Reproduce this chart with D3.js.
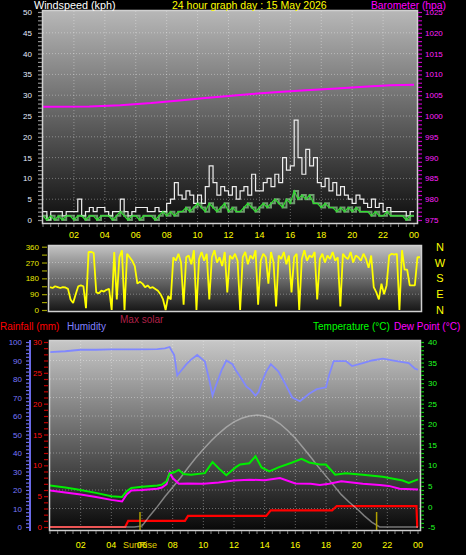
<!DOCTYPE html>
<html><head><meta charset="utf-8">
<script src="https://cdn.jsdelivr.net/npm/d3@7"></script>
<style>
body{margin:0;background:#000;}
svg{display:block;font-family:"Liberation Sans",Arial,sans-serif;}
</style>
</head><body>
<svg id="c" width="466" height="555"></svg>
<script>
// ---------------- DATA ----------------
const titleText = "24 hour graph day : 15 May 2026";
const hourLabels = ["02","04","06","08","10","12","14","16","18","20","22","00"];
const labelHours = [2,4,6,8,10,12,14,16,18,20,22,24];

// wind (kph), one value every 15 minutes (index/4 = hour)
const windGust = [2,0,2,2, 2,1,2,2, 2,5,1,2, 3,2,3,3, 2,1,2,2, 5,2,1,2, 3,3,3,2, 2,3,2,2,
  4,5,9,6, 5,7,6,4, 6,4,8,13, 9,6,8,7, 6,8,5,7, 8,6,11,7, 7,9,10,8, 11,9,15,12,
  13,24,15,11, 17,13,15,9, 8,10,7,9, 6,8,6,5, 4,6,5,4, 3,5,3,4, 2,3,2,2, 2,2,1,2, 2];
const windAvg = [1,0,1,0, 1,0,1,1, 0,1,1,0, 1,1,0,1, 1,1,0,1, 2,1,0,1, 1,0,1,1, 1,0,1,2,
  1,2,1,2, 2,3,2,3, 4,3,2,4, 3,2,3,4, 2,3,2,2, 3,4,3,2, 3,4,3,4, 5,4,3,5,
  4,7,5,6, 5,6,4,4, 3,4,3,3, 2,3,2,3, 2,3,2,2, 2,1,2,1, 1,2,1,1, 1,1,0,1, 1];

// barometer (hPa)
const baroHours = [0,3,5,7,9,10.5,12,13.5,15,17,19,21,22.5,24];
const baro = [1002.2,1002.3,1002.6,1003.1,1003.8,1004.3,1004.8,1005.3,1005.7,1006.2,1006.6,1007.1,1007.4,1007.5];

// wind direction (deg), one value every 10 minutes (index/6 = hour)
const windDir = [
  130,125,135,130,125,130, 128,120,60,40,90,135, 140,135,10,330,330,325,
  100,95,110,105,115,120, 0,330,60,300,340,0, 320,300,280,250,150,160,
  150,130,140,125,130,120, 110,90,60,0,80,60, 300,280,320,270,30,300,
  310,260,340,0,290,330, 280,320,60,300,340,270, 300,250,330,100,310,290,
  320,280,0,300,330,260, 310,290,340,30,280,320, 300,150,330,270,20,310,
  290,330,260,310,100,300, 320,0,290,340,280,310, 300,330,60,290,320,270,
  310,290,330,280,300,20, 320,300,290,330,270,310, 300,280,320,290,240,310,
  130,100,60,150,90,140, 310,320,315,320,0,340, 230,230,140,140,140,300, 300];
const compass = ["N","W","S","E","N"];
const compassDeg = [360,270,180,90,0];

// humidity (%)
const humHours = [0,1,2,3,4,5,6,7,7.5,7.8,8.1,8.3,8.6,8.9,9.2,9.6,10.1,10.4,10.6,10.8,11.2,11.5,11.9,12.1,12.5,12.8,
  13.1,13.4,13.6,13.8,14.1,14.4,14.9,15.3,15.8,16.3,16.9,17.4,18.0,18.2,18.5,19.3,19.7,20.4,21.0,21.7,22.6,23.4,23.8,24];
const humidity = [94.5,95,95.8,95.8,96,96,96,96.2,96.5,97.3,93,82,85,88,90.5,93,89.5,79,71,76,85,90,88,85,80,76,
  74,71,73,78,84,88,84,78,70,68,72,74.5,75.5,82,89.7,89.7,87,88.6,90,91,89.7,88.6,85.6,85];

// temperature (°C)
const tempHours = [0,1,1.8,3,4,4.7,5.0,5.3,6,7,7.3,7.6,7.8,8.1,8.4,8.7,9.2,10.1,10.6,11.1,11.5,12.1,12.4,13.0,13.4,13.8,
  14.3,14.9,15.8,16.4,16.9,17.6,18.0,18.6,19.3,20.4,21.7,23.0,23.4,24];
const temperature = [5.1,4.6,4.1,3.3,2.5,2.3,3.7,4.5,4.8,5.1,5.3,6.1,8.1,8.3,8.9,7.9,7.7,8.1,10.8,8.9,7.6,9.5,10.2,10.5,12.2,9.5,
  8.5,9.5,10.7,11.6,10.7,10.2,10.2,7.7,8.1,7.7,7.2,6.3,5.7,6.6];

// dew point (°C)
const dewHours = [0,1,2,3,4,4.7,5.0,5.3,6,7,7.3,7.6,7.8,8.0,8.4,9,10,11,12,13,14,15,16,17,17.6,18.2,19.0,20.4,21.5,22.1,22.8,24];
const dewPoint = [3.9,3.4,2.9,2.3,1.6,1.2,2.9,3.9,4.0,4.3,4.6,5.4,8.3,6.9,5.5,5.6,5.5,5.8,6.3,6.5,6.4,6.9,5.6,5.5,5.2,5.5,6.1,5.5,5.2,5.0,4.3,4.1];

// rainfall (mm, cumulative)
const rainHours = [0,4.9,5.0,5.1,8.8,9.0,14.1,14.4,18.4,18.7,23.9,23.95,24];
const rainfall = [0,0,0.5,1.0,1.0,1.8,1.8,2.7,2.7,3.4,3.4,0,0];

// max solar (W/m2)
const solarHours = [0,5.5,6,6.5,7,7.5,8,8.5,9,9.5,10,10.5,11,11.5,12,12.5,13,13.5,14,14.5,15,15.5,16,16.5,17,17.5,18,18.5,19,19.5,20,20.5,21,21.5,24];
const maxSolar = [0,0,5,60,110,165,215,265,320,373,420,465,505,540,568,588,600,605,600,585,558,522,480,430,378,325,275,225,175,135,100,60,25,0,0];

const sunRise = 5.87, sunSet = 21.3;

// ---------------- DRAW ----------------
const svg = d3.select("#c");
const defs = svg.append("defs");
function grad(id, c1, c2){
  const g = defs.append("linearGradient").attr("id",id).attr("x1",0).attr("y1",0).attr("x2",0).attr("y2",1);
  g.append("stop").attr("offset","0%").attr("stop-color",c1);
  g.append("stop").attr("offset","100%").attr("stop-color",c2);
}
grad("gTop","#b8b8b8","#0c0c0c");
grad("gMid","#c4c4c4","#141414");
grad("gBot","#c8c8c8","#080808");
function clip(id,x,y,w,h){defs.append("clipPath").attr("id",id).append("rect").attr("x",x).attr("y",y).attr("width",w).attr("height",h);}

const xTop = d3.scaleLinear([0,24],[43,414]);
const yWind = d3.scaleLinear([0,50],[220,12]);
const yBaro = d3.scaleLinear([975,1025],[220,12]);
const xMid = d3.scaleLinear([0,24],[50,420]);
const yDir = d3.scaleLinear([0,360],[310,246.7]);
const xBot = d3.scaleLinear([0,24],[50,418]);
const yHum = d3.scaleLinear([0,100],[527,342]);
const yRain = d3.scaleLinear([0,30],[527,342]);
const yTemp = d3.scaleLinear([-5,40],[527,342]);
const ySolar = d3.scaleLinear([0,1000],[527,342]);

const gridStyle = s => s.attr("stroke","rgba(255,255,255,0.35)").attr("stroke-dasharray","1,2").attr("stroke-width",1);

// panel frames
const panels = [
  {x:42,y:10,w:376,h:214,f:"url(#gTop)",id:"cTop"},
  {x:48,y:245,w:374,h:67,f:"url(#gMid)",id:"cMid"},
  {x:49,y:340,w:372,h:191,f:"url(#gBot)",id:"cBot"}
];
panels.forEach(p=>{
  svg.append("rect").attr("x",p.x).attr("y",p.y).attr("width",p.w).attr("height",p.h).attr("fill",p.f);
  clip(p.id,p.x+1,p.y+1,p.w-2,p.h-2);
});

// ---- top panel ----
const gTop = svg.append("g");
gTop.selectAll(".hg").data(d3.range(5,50,5)).join("line")
  .attr("x1",43).attr("x2",417).attr("y1",d=>yWind(d)).attr("y2",d=>yWind(d)).call(gridStyle);
gTop.selectAll(".vg").data(d3.range(2,24,2)).join("line")
  .attr("x1",d=>xTop(d)).attr("x2",d=>xTop(d)).attr("y1",11).attr("y2",223).call(gridStyle);
const cTop = gTop.append("g").attr("clip-path","url(#cTop)");
const idxH4 = (d,i)=>xTop(i/4);
cTop.append("path").datum(windGust)
  .attr("d",d3.line().x(idxH4).y(d=>yWind(d)).curve(d3.curveStepAfter))
  .attr("fill","none").attr("stroke","#eeeeee").attr("stroke-width",1.2);
cTop.append("path").datum(windAvg)
  .attr("d",d3.line().x(idxH4).y(d=>yWind(d)).curve(d3.curveStepAfter))
  .attr("fill","none").attr("stroke","#a8f0a8").attr("stroke-width",2).attr("opacity",0.6);
cTop.append("path").datum(windAvg)
  .attr("d",d3.line().x(idxH4).y(d=>yWind(d)))
  .attr("fill","none").attr("stroke","#30e030").attr("stroke-width",1.2);
cTop.append("path").datum(baro)
  .attr("d",d3.line().x((d,i)=>xTop(baroHours[i])).y(d=>yBaro(d)))
  .attr("fill","none").attr("stroke","#ff00ff").attr("stroke-width",2);
svg.append("rect").attr("x",42.5).attr("y",10.5).attr("width",375).attr("height",213)
  .attr("fill","none").attr("stroke","#d0d0d0").attr("stroke-width",1.5);

function styleAxis(g, color, tickColor, fs){
  g.select(".domain").remove();
  g.selectAll("line").attr("stroke",tickColor).attr("stroke-width",1.2);
  g.selectAll("text").attr("fill",color).attr("font-size",fs).attr("font-family","Liberation Sans, Arial, sans-serif");
}
const ax1 = svg.append("g").attr("transform","translate(42,0)")
  .call(d3.axisLeft(yWind).tickValues(d3.range(0,51)).tickSize(4).tickPadding(6).tickFormat(d=>d%5?"":d));
styleAxis(ax1,"#e4ecff","#909090","8px");
const ax2 = svg.append("g").attr("transform","translate(418,0)")
  .call(d3.axisRight(yBaro).tickValues(d3.range(975,1026)).tickSize(4).tickPadding(3).tickFormat(d=>d%5?"":d));
styleAxis(ax2,"#ff20ff","#c000c0","8px");
// bottom minor ticks
svg.selectAll(".tt").data(d3.range(0,24.01,0.5)).join("line")
  .attr("x1",d=>xTop(d)).attr("x2",d=>xTop(d)).attr("y1",224).attr("y2",227).attr("stroke","#808080");
svg.selectAll(".tl").data(labelHours).join("text")
  .attr("x",d=>xTop(d)).attr("y",238).attr("text-anchor","middle")
  .attr("fill","#ffff00").attr("font-size","9px").text((d,i)=>hourLabels[i]);

// header
svg.append("text").attr("x",34).attr("y",9).attr("fill","#ffffff").attr("font-size","10.8px").text("Windspeed (kph)");
svg.append("text").attr("x",172).attr("y",9).attr("fill","#ffff00").attr("font-size","10.5px").text(titleText);
svg.append("text").attr("x",371).attr("y",9).attr("fill","#ff00ff").attr("font-size","10.3px").text("Barometer (hpa)");

// ---- middle panel ----
svg.selectAll(".mg").data([90,180,270]).join("line")
  .attr("x1",49).attr("x2",421).attr("y1",d=>yDir(d)).attr("y2",d=>yDir(d)).call(gridStyle);
const cMid = svg.append("g").attr("clip-path","url(#cMid)");
cMid.append("path").datum(windDir)
  .attr("d",d3.line().x((d,i)=>xMid(i/6)).y(d=>yDir(d)))
  .attr("fill","none").attr("stroke","#ffff00").attr("stroke-width",1.8).attr("stroke-linejoin","bevel");
svg.append("rect").attr("x",48.5).attr("y",245.5).attr("width",373).attr("height",66)
  .attr("fill","none").attr("stroke","#d0d0d0").attr("stroke-width",1.5);
const ax3 = svg.append("g").attr("transform","translate(47,0)")
  .call(d3.axisLeft(yDir).tickValues(d3.range(0,361,45)).tickSize(5).tickPadding(3).tickFormat(d=>d%90?"":d));
styleAxis(ax3,"#e8e800","#a0a000","8px");
svg.selectAll(".cp").data(compass).join("text")
  .attr("x",440).attr("y",(d,i)=>yDir(compassDeg[i])+4).attr("text-anchor","middle")
  .attr("fill","#ffff00").attr("font-size","11px").text(d=>d);

// legend row
svg.append("text").attr("x",0).attr("y",330).attr("fill","#ff0000").attr("font-size","10px").text("Rainfall (mm)");
svg.append("text").attr("x",67).attr("y",330).attr("fill","#8080ff").attr("font-size","10px").text("Humidity");
svg.append("text").attr("x",120).attr("y",323).attr("fill","#b02048").attr("font-size","10px").text("Max solar");
svg.append("text").attr("x",313).attr("y",330).attr("fill","#00ff00").attr("font-size","10px").text("Temperature (°C)");
svg.append("text").attr("x",394).attr("y",330).attr("fill","#ff00ff").attr("font-size","10px").text("Dew Point (°C)");

// ---- bottom panel ----
svg.selectAll(".bh").data(d3.range(10,100,10)).join("line")
  .attr("x1",50).attr("x2",420).attr("y1",d=>yHum(d)).attr("y2",d=>yHum(d)).call(gridStyle);
svg.selectAll(".bv").data(d3.range(2,24,2)).join("line")
  .attr("x1",d=>xBot(d)).attr("x2",d=>xBot(d)).attr("y1",341).attr("y2",530).call(gridStyle);
const cBot = svg.append("g").attr("clip-path","url(#cBot)");
const lineB = (hrs, ys) => d3.line().x((d,i)=>xBot(hrs[i])).y(d=>ys(d));
cBot.append("path").datum(humidity).attr("d",lineB(humHours,yHum))
  .attr("fill","none").attr("stroke","#8088ff").attr("stroke-width",1.8);
cBot.append("path").datum(rainfall).attr("d",lineB(rainHours,yRain))
  .attr("fill","none").attr("stroke","#ff0000").attr("stroke-width",2.2);
cBot.append("path").datum(maxSolar).attr("d",lineB(solarHours,ySolar))
  .attr("fill","none").attr("stroke","#d0d0d0").attr("stroke-width",1.5).attr("opacity",0.55);
cBot.append("path").datum(dewPoint).attr("d",lineB(dewHours,yTemp))
  .attr("fill","none").attr("stroke","#ff00ff").attr("stroke-width",2);
cBot.append("path").datum(temperature).attr("d",lineB(tempHours,yTemp))
  .attr("fill","none").attr("stroke","#00ee00").attr("stroke-width",2);
cBot.selectAll(".sun").data([sunRise,sunSet]).join("line")
  .attr("x1",d=>xBot(d)).attr("x2",d=>xBot(d)).attr("y1",512).attr("y2",531)
  .attr("stroke","#b0a000").attr("stroke-width",1.5);
svg.append("rect").attr("x",49.5).attr("y",340.5).attr("width",371).attr("height",190)
  .attr("fill","none").attr("stroke","#d0d0d0").attr("stroke-width",1.5);

const ax4 = svg.append("g").attr("transform","translate(30,0)")
  .call(d3.axisLeft(yHum).tickValues(d3.range(0,101,2)).tickSize(4).tickPadding(4).tickFormat(d=>d%10?"":d));
styleAxis(ax4,"#7878ff","#6a6ae8","8px");
svg.append("line").attr("x1",30).attr("x2",30).attr("y1",340).attr("y2",531).attr("stroke","#6a6ae8").attr("stroke-width",2);
const ax5 = svg.append("g").attr("transform","translate(48,0)")
  .call(d3.axisLeft(yRain).tickValues(d3.range(0,31)).tickSize(4).tickPadding(2).tickFormat(d=>d%5?"":d));
styleAxis(ax5,"#ff1010","#c00000","8px");
const ax6 = svg.append("g").attr("transform","translate(421,0)")
  .call(d3.axisRight(yTemp).tickValues(d3.range(-5,41)).tickSize(3).tickPadding(4).tickFormat(d=>d%5?"":d));
styleAxis(ax6,"#20ff20","#10c010","8px");
svg.selectAll(".btk").data(d3.range(0,24.01,0.5)).join("line")
  .attr("x1",d=>xBot(d)).attr("x2",d=>xBot(d)).attr("y1",531).attr("y2",534).attr("stroke","#808080");
svg.selectAll(".bl").data(labelHours).join("text")
  .attr("x",d=>xBot(d)).attr("y",548).attr("text-anchor","middle")
  .attr("fill","#ffff00").attr("font-size","9px").text((d,i)=>hourLabels[i]);
svg.append("text").attr("x",xBot(sunRise)).attr("y",548).attr("text-anchor","middle")
  .attr("fill","#e0d000").attr("font-size","9px").text("SunRise");
</script>
</body></html>
